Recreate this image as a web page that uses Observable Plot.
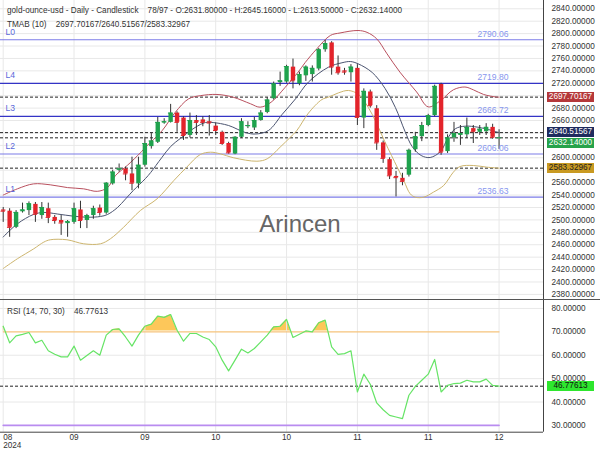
<!DOCTYPE html>
<html><head><meta charset="utf-8">
<script src="https://cdn.jsdelivr.net/npm/d3@7"></script>
<script src="https://cdn.jsdelivr.net/npm/@observablehq/plot@0.6"></script>
<style>
body{margin:0;background:#fff;font-family:"Liberation Sans",Arial,sans-serif;}
#wrap{position:relative;width:600px;height:450px;overflow:hidden;background:#fff;}
#main{position:absolute;left:0;top:0;}
#rsi{position:absolute;left:0;top:299px;border-top:1px solid #555;width:600px;}
.hdr{position:absolute;left:7px;font-size:8.2px;line-height:10px;color:#333;white-space:pre;}
.box{position:absolute;left:547px;width:47px;height:10px;font-size:8.2px;line-height:10px;text-align:center;}
#wm{position:absolute;left:0;width:600px;text-align:center;font-size:24px;line-height:24px;color:#666;}
</style></head><body>
<div id="wrap"><div id="main"></div><div id="rsi"></div></div>
<script>
// ---- data ----
const opens  = [2516,2514,2488,2513,2515,2525,2507,2518,2504,2499,2494,2496,2516,2499,2507,2519,2511,2558,2580,2582,2574,2558,2588,2618,2625,2656,2657,2672,2664,2636,2660,2661,2658,2651,2641,2623,2606,2633,2650,2648,2660,2673,2695,2721,2722,2746,2719,2732,2734,2743,2774,2785,2746,2740,2737,2744,2664,2706,2679,2624,2597,2570,2567,2572,2613,2634,2652,2668,2718,2610,2632,2636,2637,2647,2641,2642,2649,2631.8];
const highs  = [2520,2518,2515,2527,2529,2528,2528,2527,2507,2507,2499,2527,2530,2509,2522,2524,2560,2580,2590,2585,2601,2601,2633,2639,2665,2663,2686,2674,2666,2672,2668,2666,2668,2656,2643,2625,2634,2663,2658,2665,2676,2697,2722,2738,2749,2759,2738,2748,2748,2776,2789,2787,2764,2744,2750,2750,2711,2709,2684,2627,2600,2578,2575,2614,2641,2657,2670,2717,2720,2637,2657,2652,2664,2652,2652,2655,2654,2645.16];
const lows   = [2496,2472,2486,2511,2507,2496,2501,2494,2493,2475,2472,2493,2486,2486,2501,2506,2509,2556,2577,2563,2547,2550,2585,2614,2623,2654,2656,2641,2628,2632,2636,2650,2635,2636,2620,2606,2605,2631,2647,2644,2659,2671,2693,2715,2720,2711,2716,2723,2722,2740,2770,2733,2733,2733,2722,2652,2647,2680,2612,2591,2565,2537,2555,2569,2609,2626,2650,2666,2604,2607,2625,2620,2631,2623,2636,2636,2630,2613.5];
const closes = [2514,2488,2512,2516,2526,2509,2520,2504,2499,2495,2497,2518,2499,2507,2518,2512,2559,2577,2582,2574,2559,2588,2623,2627,2657,2658,2672,2657,2636,2660,2657,2657,2656,2644,2623,2608,2633,2658,2652,2660,2672,2693,2719,2724,2747,2724,2734,2746,2744,2774,2784,2746,2737,2738,2746,2665,2707,2684,2624,2599,2571,2568,2562,2612,2634,2652,2668,2715,2609,2632,2639,2639,2649,2642,2646,2649,2633,2632.14];

const upperIdx = [0,2.2,4.7,7.3,10,12.5,14.6,16.2,17.4,19.3,21.3,22.1,24.7,26.7,28.8,30.6,33.2,35.7,38.4,39.9,41.6,43.8,45.8,46.9,48.7,50.8,52.3,55.1,56.5,58,59.6,61.6,64.2,66,67.9,69.9,71.7,73,74.6,76.6,77];
const upperVal = [2540,2550,2558,2556.5,2552,2550,2546,2552,2571,2588,2608,2617,2644,2673,2695,2700,2702,2697.6,2687,2681.5,2689.5,2713.7,2738,2753.5,2775.5,2797,2801,2805,2802,2791.6,2767.5,2738,2706,2682,2692,2709.5,2714,2709.5,2702,2697.8,2697.70167];
const midIdx = [0,2.2,4.7,6.3,8.4,10.9,13.1,15.1,16.2,17.7,19,20.2,22.1,22.9,24.6,26,27.5,29.8,31.4,32.6,35,37.6,39.2,41.2,43.3,45.4,47.4,50.5,52.6,53.9,55.1,57.3,59.3,60.9,62.4,63.5,64.9,66.3,67.9,69.1,70.2,71.7,73.7,75.9,77];
const midVal = [2472.5,2493.7,2508.7,2512,2509.5,2506,2504.3,2505.5,2508.7,2519.5,2533.7,2547.3,2566.7,2576.3,2600,2618.2,2631.1,2648.8,2656.8,2656.8,2652,2640.7,2638.3,2644,2669.7,2695,2722,2745.9,2753,2755,2751.4,2737.4,2711.6,2681,2642.4,2618.2,2603.7,2600.5,2610.1,2632.7,2646.7,2650.9,2649.3,2644,2640.51567];
const lowIdx = [0,2.2,4.75,6.3,7.3,9.9,12.5,15.1,16.65,18.7,21.3,23.9,26.5,28.5,30.6,32.2,33.7,35.8,39.4,41,43,44.6,45.6,47.4,49.5,50.5,52.1,53.6,55.2,56.7,57.9,59.3,60.3,62.2,63.2,64,65.3,66.8,68.4,69.9,70.95,73,75.1,77];
const lowVal = [2421.7,2437.4,2453.5,2464.2,2468,2468,2461.5,2461.5,2469.6,2488.2,2515.1,2534,2563.4,2584.9,2605.3,2609,2606.4,2600,2594.5,2598.4,2617.1,2633.2,2644,2672,2693.9,2697.6,2704.7,2708.4,2701.9,2681,2657.3,2625.1,2603.7,2563.4,2542,2536.6,2536.6,2544.6,2555.4,2576.8,2586,2587.6,2584.9,2583.32967];

const rsiValues = [72.4,65.3,68.3,68.9,69.7,65.3,66.4,61.9,60.4,59.3,59.3,63.9,57.9,59.9,61.9,60.0,68.6,71.0,71.3,67.8,63.9,68.6,72.4,73.3,76.7,76.2,77.4,70.7,66.0,69.3,69.3,67.8,66.7,63.6,57.9,53.3,57.9,62.6,61.0,62.9,65.7,68.6,72.1,72.4,75.3,67.6,69.0,70.4,70.0,73.9,75.0,63.6,60.4,60.7,61.9,44.3,51.9,47.6,39.6,36.7,34.3,33.6,32.9,42.9,46.7,49.3,51.9,58.2,44.3,47.1,47.9,48.1,49.3,48.6,48.6,49.8,47.1,46.77613];

const levelNames  = ["L0","L4","L3","L2","L1"];
const levelValues = [2790.06,2719.80,2666.72,2606.06,2536.63];
const bandLast = [2697.70167,2640.51567,2583.32967];
const closeLast = 2632.14;
const rsiLast = 46.77613;
const rsiBounds = [70,30];

const xTickIdx = [0,11,22,33,44,55,66,77];
const xTickLabels = ["08","09","09","10","10","11","11","12"];
const yearLabel = "2024";
const priceTicks = d3.range(2380, 2841, 20);
const rsiTicks = [30,40,50,60,70,80];
const rsiGrid = [40,50,60,80];

const titleText = "gold-ounce-usd - Daily - Candlestick    78/97 - O:2631.80000 - H:2645.16000 - L:2613.50000 - C:2632.14000";
const tmabText = "TMAB (10)    2697.70167/2640.51567/2583.32967";
const rsiText = "RSI (14, 70, 30)    46.77613";
const watermark = "Arincen";

// ---- config ----
const xDomain = [-0.42, 83.9];
const priceDomain = [2370.2, 2853.3];
const rsiDomain = [27.1, 83.4];
const MAIN_H = 300;
const FONT = "Liberation Sans, Arial, sans-serif";
const UP = "#1fa24d", DOWN = "#e3242b";
const levelColor = {L0:"#7c7ce8", L4:"#3434c6", L3:"#3434c6", L2:"#7c7ce8", L1:"#7c7ce8"};

const candles = opens.map((o,i)=>({i, o, h:highs[i], l:lows[i], c:closes[i]}));
const col = d => d.c >= d.o ? UP : DOWN;
const upper = upperIdx.map((i,k)=>({i, p:upperVal[k]}));
const mid = midIdx.map((i,k)=>({i, p:midVal[k]}));
const low = lowIdx.map((i,k)=>({i, p:lowVal[k]}));
const levels = levelNames.map((n,k)=>({name:n, value:levelValues[k], label:levelValues[k].toFixed(2)}));
const rsiData = rsiValues.map((r,i)=>({i, r}));
const xTicks = xTickIdx.map((i,k)=>({i, label:xTickLabels[k]}));

// value boxes on the price axis (positions from the same y scale)
const yScale = Plot.scale({y: {domain: priceDomain, range: [MAIN_H, 0]}});
const boxes = [
  {v: bandLast[0], bg: "#b5383a", fg: "#fff"},
  {v: bandLast[1], bg: "#1f2b5e", fg: "#fff"},
  {v: closeLast, bg: "#26a34a", fg: "#fff"},
  {v: bandLast[2], bg: "#c99a22", fg: "#222"}
].map(b => ({...b, y: yScale.apply(b.v)})).sort((a,b)=>a.y-b.y);
let prevBottom = -100;
for (const b of boxes) {
  let top = b.y - 5;
  if (top < prevBottom + 1) top = prevBottom + 1;
  prevBottom = top + 10;
  b.top = top; b.center = top + 5;
}
const axisTicks = priceTicks.filter(t => boxes.every(b => Math.abs(yScale.apply(t) - b.center) > 8));

const styleBase = {fontFamily: FONT, fontSize: "8.2px", color: "#333", background: "transparent"};

const main = Plot.plot({
  width: 600, height: MAIN_H, marginLeft: 0, marginRight: 57, marginTop: 0, marginBottom: 0,
  style: styleBase,
  x: {domain: xDomain, axis: null},
  y: {domain: priceDomain, axis: "right", ticks: axisTicks, tickFormat: d => d.toFixed(5), tickSize: 0, tickPadding: 8, label: null},
  marks: [
    Plot.ruleY(priceTicks, {stroke: "#e8e8e8"}),
    Plot.ruleX(xTickIdx, {stroke: "#e8e8e8"}),
    Plot.ruleY(levels, {y: "value", stroke: d => levelColor[d.name], strokeWidth: 1.1}),
    Plot.ruleY([...bandLast, closeLast], {stroke: "#222", strokeDasharray: "3,2"}),
    Plot.line(upper, {x: "i", y: "p", curve: "catmull-rom", stroke: "#b9505e", strokeWidth: 1}),
    Plot.line(mid, {x: "i", y: "p", curve: "catmull-rom", stroke: "#4b5470", strokeWidth: 1}),
    Plot.line(low, {x: "i", y: "p", curve: "catmull-rom", stroke: "#cdb56e", strokeWidth: 1}),
    Plot.ruleX(candles, {x: "i", y1: "l", y2: "h", stroke: "#333", strokeWidth: 1}),
    Plot.ruleX(candles, {x: "i", y1: "o", y2: "c", stroke: col, strokeWidth: 4.4}),
    Plot.ruleY(candles, {y: "c", x1: d => d.i - 0.34, x2: d => d.i + 0.34, stroke: col, strokeWidth: 1}),
    Plot.text(levels, {y: "value", text: "name", frameAnchor: "left", dx: 5, dy: -8, textAnchor: "start", fill: "#5a68da", fontSize: 8.6}),
    Plot.text(levels, {y: "value", text: "label", frameAnchor: "right", dx: -35, dy: -6, textAnchor: "end", fill: "#8796ee", fontSize: 8.6}),
    Plot.ruleX([xDomain[1]], {stroke: "#444"})
  ]
});
document.getElementById("main").appendChild(main);

const rsiPlot = Plot.plot({
  width: 600, height: 150, marginLeft: 0, marginRight: 57, marginTop: 0, marginBottom: 18.3,
  style: styleBase,
  x: {domain: xDomain, axis: null},
  y: {domain: rsiDomain, axis: "right", ticks: rsiTicks, tickFormat: d => d.toFixed(5), tickSize: 0, tickPadding: 8, label: null},
  marks: [
    Plot.areaY(rsiData, {x: "i", y1: rsiBounds[0], y2: "r", fill: "#fdc75a"}),
    Plot.areaY(rsiData, {x: "i", y1: rsiDomain[0], y2: rsiBounds[0], fill: "#fff", stroke: "#fff", strokeWidth: 1.5}),
    Plot.ruleY(rsiGrid, {stroke: "#e8e8e8"}),
    Plot.ruleX(xTickIdx, {stroke: "#e8e8e8"}),
    Plot.lineY(rsiData, {x: "i", y: () => rsiBounds[0], stroke: "#f6c47c", strokeWidth: 1.1}),
    Plot.lineY(rsiData, {x: "i", y: () => rsiBounds[1], stroke: "#b98cf0", strokeWidth: 1.6}),
    Plot.ruleY([rsiLast], {stroke: "#222", strokeDasharray: "3,2"}),
    Plot.lineY(rsiData, {x: "i", y: "r", stroke: "#66e466", strokeWidth: 1.2}),
    Plot.ruleX([xDomain[1]], {stroke: "#444"}),
    Plot.ruleY([rsiDomain[0]], {stroke: "#444"}),
    Plot.text(xTicks.slice(0,1), {x: "i", text: "label", frameAnchor: "bottom", dy: 5.5, lineAnchor: "middle", textAnchor: "start", fill: "#333"}),
    Plot.text(xTicks.slice(1), {x: "i", text: "label", frameAnchor: "bottom", dy: 5.5, lineAnchor: "middle", textAnchor: "middle", fill: "#333"}),
    Plot.text(xTicks.slice(0,1), {x: "i", text: () => yearLabel, frameAnchor: "bottom", dy: 13, lineAnchor: "middle", textAnchor: "start", fill: "#333"})
  ]
});
document.getElementById("rsi").appendChild(rsiPlot);

// ---- overlays ----
const wrap = document.getElementById("wrap");
function addDiv(cls, text, top, extra) {
  const d = document.createElement("div");
  d.className = cls; d.textContent = text; d.style.top = top + "px";
  if (extra) Object.assign(d.style, extra);
  wrap.appendChild(d); return d;
}
addDiv("hdr", titleText, 5.5);
addDiv("hdr", tmabText, 20);
addDiv("hdr", rsiText, 306.5);
addDiv("", watermark, 212).id = "wm";

for (const b of boxes) addDiv("box", b.v.toFixed(5), b.top, {background: b.bg, color: b.fg});
const rs = rsiPlot.scale("y");
addDiv("box", rsiLast.toFixed(5), 300 + rs.apply(rsiLast) - 5, {background: "#2ee62e", color: "#111"});
</script>
</body></html>
